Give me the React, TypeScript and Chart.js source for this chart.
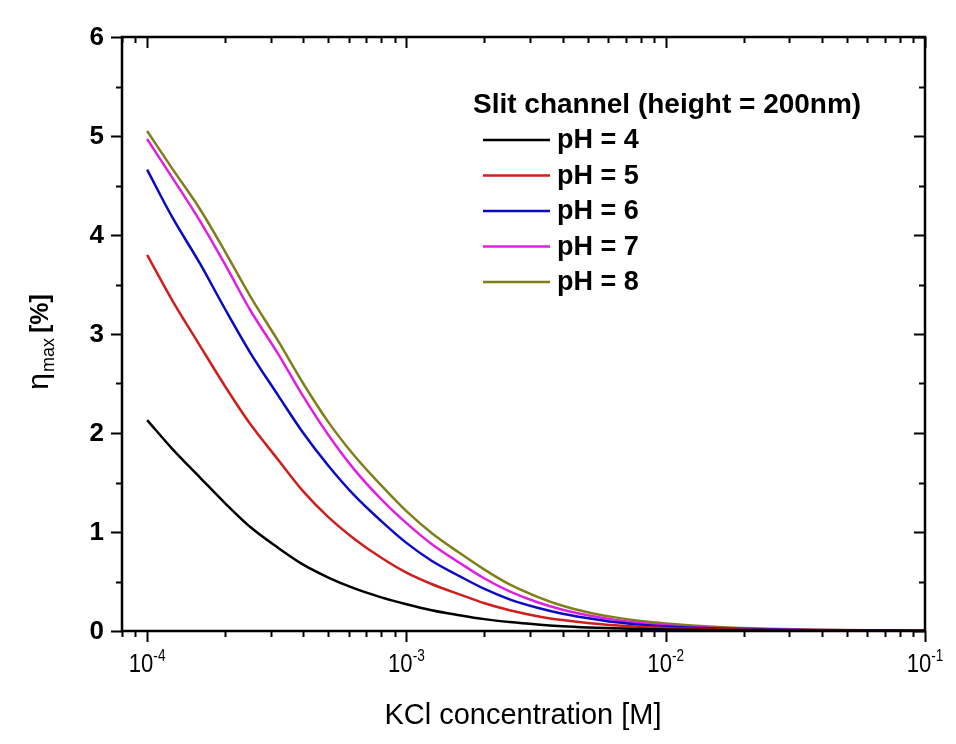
import React, { useEffect, useRef } from "react";
import { Chart, registerables } from "chart.js";

Chart.register(...registerables);

// KCl concentration [M]
const concentrations = [
  1e-4, 1.25e-4, 1.6e-4, 2e-4, 2.5e-4, 3.2e-4, 4e-4, 5e-4, 6.3e-4, 8e-4,
  1e-3, 1.25e-3, 1.6e-3, 2e-3, 2.5e-3, 3.2e-3, 4e-3, 5e-3, 6.3e-3, 8e-3,
  1e-2, 1.6e-2, 2.5e-2, 4e-2, 6.3e-2, 1e-1,
];

// eta_max [%]
const ph4 = [
  2.13, 1.84, 1.55, 1.29, 1.05, 0.84, 0.67, 0.54, 0.43, 0.34,
  0.27, 0.21, 0.16, 0.12, 0.09, 0.065, 0.048, 0.036, 0.027, 0.02,
  0.015, 0.009, 0.005, 0.003, 0.002, 0.001,
];
const ph5 = [
  3.8, 3.34, 2.88, 2.47, 2.09, 1.73, 1.41, 1.15, 0.93, 0.74,
  0.59, 0.475, 0.37, 0.28, 0.21, 0.15, 0.11, 0.08, 0.058, 0.042,
  0.03, 0.017, 0.01, 0.006, 0.003, 0.002,
];
const ph6 = [
  4.66, 4.18, 3.71, 3.25, 2.81, 2.38, 2.0, 1.67, 1.37, 1.11,
  0.89, 0.71, 0.555, 0.425, 0.32, 0.235, 0.175, 0.13, 0.09, 0.063,
  0.045, 0.025, 0.014, 0.008, 0.004, 0.002,
];
const ph7 = [
  4.97, 4.58, 4.14, 3.7, 3.24, 2.8, 2.37, 1.98, 1.63, 1.33,
  1.09, 0.88, 0.69, 0.53, 0.4, 0.29, 0.215, 0.16, 0.115, 0.08,
  0.058, 0.03, 0.017, 0.009, 0.005, 0.003,
];
const ph8 = [
  5.05, 4.67, 4.26, 3.83, 3.38, 2.93, 2.5, 2.11, 1.77, 1.47,
  1.21, 0.99, 0.79, 0.62, 0.47, 0.345, 0.255, 0.19, 0.14, 0.1,
  0.075, 0.04, 0.022, 0.012, 0.007, 0.004,
];

const seriesValues = [ph4, ph5, ph6, ph7, ph8];
const seriesLabels = ["pH = 4", "pH = 5", "pH = 6", "pH = 7", "pH = 8"];
const seriesColors = ["#000000", "#d01e1e", "#0a0ac4", "#e020e0", "#7f7f1a"];
const legendTitle = "Slit channel (height = 200nm)";

const xMin = 8e-5;
const xMax = 1e-1;
const yMin = 0;
const yMax = 6;
const xMajorTicks = [1e-4, 1e-3, 1e-2, 1e-1];
const xTickBase = "10";
const xTickExponents = ["-4", "-3", "-2", "-1"];
const yMajorTicks = [0, 1, 2, 3, 4, 5, 6];
const yMinorTicks = [0.5, 1.5, 2.5, 3.5, 4.5, 5.5];
const xTitle = "KCl concentration [M]";
const yTitleSymbol = "\u03B7";
const yTitleSub = "max";
const yTitleUnit = "[%]";

const SANS = '"Liberation Sans", Arial, sans-serif';

const framePlugin = {
  id: "originFrame",
  afterDraw(chart: any) {
    const ctx = chart.ctx as CanvasRenderingContext2D;
    const xs = chart.scales.x;
    const ys = chart.scales.y;
    const a = chart.chartArea;
    ctx.save();
    ctx.strokeStyle = "#000";
    ctx.fillStyle = "#000";
    ctx.lineWidth = 2.5;
    ctx.lineCap = "butt";
    ctx.strokeRect(a.left, a.top, a.right - a.left, a.bottom - a.top);

    // x ticks (major + minor), bottom outward, top inward
    ctx.lineWidth = 2;
    for (let d = -5; d <= -1; d++) {
      for (let m = 1; m <= 9; m++) {
        const v = m * Math.pow(10, d);
        if (v < xMin * 0.999 || v > xMax * 1.001) continue;
        const px = Math.round(xs.getPixelForValue(v)) + 0.5;
        const len = m === 1 ? 11 : 6;
        ctx.beginPath();
        ctx.moveTo(px, a.bottom);
        ctx.lineTo(px, a.bottom + len);
        ctx.moveTo(px, a.top);
        ctx.lineTo(px, a.top + len);
        ctx.stroke();
      }
    }
    // y ticks, left outward, right inward
    const yTicks = [
      ...yMajorTicks.map((v) => ({ v, major: true })),
      ...yMinorTicks.map((v) => ({ v, major: false })),
    ];
    for (const t of yTicks) {
      const py = Math.round(ys.getPixelForValue(t.v)) + 0.5;
      const len = t.major ? 11 : 6;
      ctx.beginPath();
      ctx.moveTo(a.left - len, py);
      ctx.lineTo(a.left, py);
      ctx.moveTo(a.right - len, py);
      ctx.lineTo(a.right, py);
      ctx.stroke();
    }

    // y tick labels
    ctx.font = `bold 26px ${SANS}`;
    ctx.textAlign = "right";
    ctx.textBaseline = "middle";
    for (const v of yMajorTicks) {
      ctx.fillText(String(v), a.left - 18, ys.getPixelForValue(v) + 1);
    }

    // x tick labels: 10^exp, condensed
    const cond = 0.85;
    xMajorTicks.forEach((v, i) => {
      const px = xs.getPixelForValue(v);
      ctx.font = `26px ${SANS}`;
      const wb = ctx.measureText(xTickBase).width * cond;
      ctx.font = `16px ${SANS}`;
      const we = ctx.measureText(xTickExponents[i]).width * cond;
      const start = px - (wb + we) / 2;
      ctx.save();
      ctx.textAlign = "left";
      ctx.textBaseline = "alphabetic";
      ctx.translate(start, a.bottom + 41);
      ctx.scale(cond, 1);
      ctx.font = `26px ${SANS}`;
      ctx.fillText(xTickBase, 0, 0);
      ctx.font = `16px ${SANS}`;
      ctx.fillText(xTickExponents[i], wb / cond, -11);
      ctx.restore();
    });

    // x title
    ctx.save();
    ctx.font = `30px ${SANS}`;
    const tw = ctx.measureText(xTitle).width;
    const targetW = 277;
    ctx.translate(515 - targetW / 2, 716);
    ctx.scale(targetW / tw, 1);
    ctx.textAlign = "left";
    ctx.textBaseline = "alphabetic";
    ctx.fillText(xTitle, 0, 0);
    ctx.restore();

    // y title (rotated)
    ctx.save();
    ctx.translate(40, 334);
    ctx.rotate(-Math.PI / 2);
    ctx.textBaseline = "alphabetic";
    ctx.textAlign = "left";
    const f1 = `30px ${SANS}`;
    const f2 = `18px ${SANS}`;
    const f3 = `bold 25px ${SANS}`;
    ctx.font = f1;
    const w1 = ctx.measureText(yTitleSymbol).width;
    ctx.font = f2;
    const w2 = ctx.measureText(yTitleSub).width;
    ctx.font = f3;
    const w3 = ctx.measureText(yTitleUnit).width;
    const gap = 5;
    let x0 = -(w1 + 1 + w2 + gap + w3) / 2;
    ctx.font = f1;
    ctx.fillText(yTitleSymbol, x0, 0);
    x0 += w1 + 1;
    ctx.font = f2;
    ctx.fillText(yTitleSub, x0, 6);
    x0 += w2 + gap;
    ctx.font = f3;
    ctx.fillText(yTitleUnit, x0, 0);
    ctx.restore();

    // legend
    ctx.save();
    ctx.textAlign = "left";
    ctx.textBaseline = "middle";
    ctx.font = `bold 28px ${SANS}`;
    ctx.fillText(legendTitle, 465, 97);
    ctx.font = `bold 27px ${SANS}`;
    const ds = chart.data.datasets;
    ds.forEach((d: any, i: number) => {
      const y = 132 + i * 35.5;
      ctx.strokeStyle = d.borderColor;
      ctx.lineWidth = 2.5;
      ctx.beginPath();
      ctx.moveTo(475, y);
      ctx.lineTo(542, y);
      ctx.stroke();
      ctx.fillStyle = "#000";
      ctx.fillText(d.label, 549, y + 1);
    });
    ctx.restore();

    ctx.restore();
  },
};

export default function App() {
  const ref = useRef<HTMLCanvasElement | null>(null);

  useEffect(() => {
    if (!ref.current) return;
    const datasets = seriesValues.map((vals, i) => ({
      label: seriesLabels[i],
      data: concentrations.map((c, j) => ({ x: c, y: vals[j] })),
      borderColor: seriesColors[i],
      backgroundColor: seriesColors[i],
      borderWidth: 2.5,
      pointRadius: 0,
      fill: false,
      cubicInterpolationMode: "monotone" as const,
    }));
    const chart = new Chart(ref.current, {
      type: "line",
      data: { datasets },
      options: {
        responsive: false,
        animation: false,
        parsing: false as any,
        layout: { padding: { left: 114, top: 29, right: 23, bottom: 105 } },
        scales: {
          x: { type: "logarithmic", min: xMin, max: xMax, display: false },
          y: { type: "linear", min: yMin, max: yMax, display: false },
        },
        plugins: {
          legend: { display: false },
          tooltip: { enabled: false },
        },
      },
      plugins: [framePlugin],
    });
    return () => chart.destroy();
  }, []);

  return (
    <div style={{ width: 940, height: 728, background: "#fff" }}>
      <canvas ref={ref} width={940} height={728} style={{ display: "block" }} />
    </div>
  );
}
